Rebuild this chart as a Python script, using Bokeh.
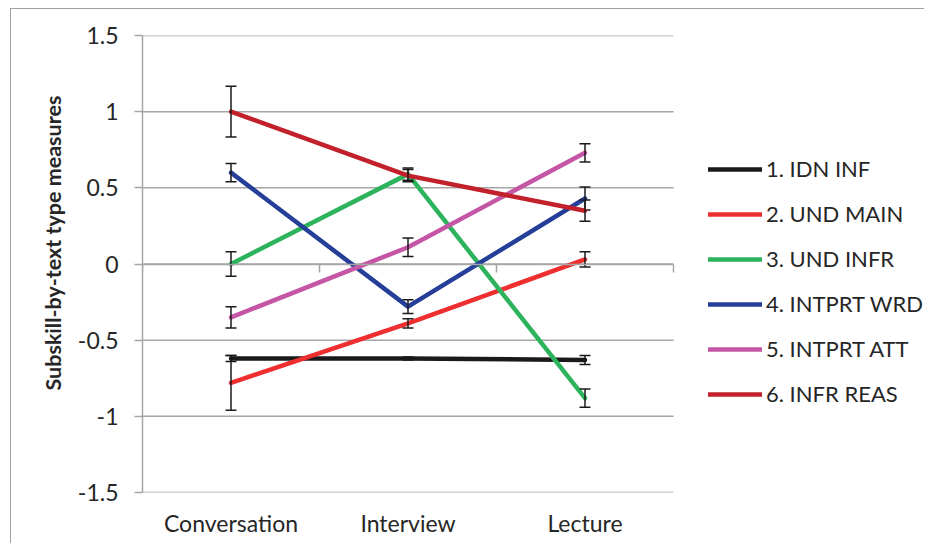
from bokeh.plotting import figure
from bokeh.models import (Range1d, LinearAxis, FixedTicker, Legend,
                          LegendItem, ColumnDataSource, Title)
from bokeh.embed import file_html
from bokeh.resources import INLINE

# ---- data ----
categories = ["Conversation", "Interview", "Lecture"]
cat_pos = [0.5, 1.5, 2.5]
y_ticks = [-1.5, -1.0, -0.5, 0.0, 0.5, 1.0, 1.5]
y_tick_labels = ["-1.5", "-1", "-0.5", "0", "0.5", "1", "1.5"]
x_axis_ticks = [0, 1, 2, 3]
x_min, x_max = 0, 3
y_title = "Subskill-by-text type measures"

series_names = ["1. IDN INF", "2. UND MAIN", "3. UND INFR",
                "4. INTPRT WRD", "5. INTPRT ATT", "6. INFR REAS"]

idn_inf = [-0.62, -0.62, -0.63]
idn_inf_err = [0.02, 0.01, 0.03]
und_main = [-0.78, -0.39, 0.03]
und_main_err = [0.18, 0.03, 0.05]
und_infr = [0.00, 0.59, -0.88]
und_infr_err = [0.08, 0.04, 0.06]
intprt_wrd = [0.60, -0.28, 0.43]
intprt_wrd_err = [0.06, 0.045, 0.075]
intprt_att = [-0.35, 0.11, 0.73]
intprt_att_err = [0.07, 0.06, 0.06]
infr_reas = [1.00, 0.58, 0.35]
infr_reas_err = [0.167, 0.04, 0.07]

series_values = [idn_inf, und_main, und_infr, intprt_wrd, intprt_att, infr_reas]
series_errors = [idn_inf_err, und_main_err, und_infr_err,
                 intprt_wrd_err, intprt_att_err, infr_reas_err]
series_colors = ["#1a1a1a", "#ee2e2f", "#2db35c", "#253e98", "#c556a5", "#c2202a"]

FONT = "Lato"
TEXT_COLOR = "#262626"
GRID_COLOR = "#a6a6a6"
ERR_COLOR = "#1a1a1a"

# layout (pixels); the figure is offset to leave room for the chart-area border
OFF_X, OFF_Y = 11, 9
W, H = 925 - OFF_X, 544 - OFF_Y
LEFT, TOP, BOTTOM = 142 - OFF_X, 35 - OFF_Y, 52
PLOT_PX = 531              # pixel width of the category area (x 0..3)
FRAME_PX = W - LEFT        # frame extends to the right edge to host the legend
x_view_max = x_max * FRAME_PX / PLOT_PX

p = figure(width=W, height=H, x_range=Range1d(x_min, x_view_max),
           y_range=Range1d(y_ticks[0], y_ticks[-1]),
           x_axis_type=None, y_axis_type=None, toolbar_location=None,
           output_backend="svg", min_border_left=LEFT, min_border_right=0,
           min_border_top=TOP, min_border_bottom=BOTTOM, outline_line_color=None,
           background_fill_color="white", border_fill_color="white")
p.margin = (OFF_Y - 1, 0, 0, OFF_X - 1)
p.styles = {"border-top": "1px solid #a0a0a0", "border-left": "1px solid #a0a0a0"}
p.xgrid.visible = False
p.ygrid.visible = False

# horizontal gridlines limited to the category area
grid_src = ColumnDataSource(dict(x0=[x_min] * len(y_ticks), x1=[x_max] * len(y_ticks),
                                 y=y_ticks))
p.segment(x0="x0", y0="y", x1="x1", y1="y", source=grid_src,
          line_color=GRID_COLOR, line_width=1.5)

yaxis = LinearAxis(ticker=FixedTicker(ticks=y_ticks),
                   major_label_overrides={t: l for t, l in zip(y_ticks, y_tick_labels)},
                   axis_line_color=GRID_COLOR, axis_line_width=1.5,
                   major_tick_line_color=GRID_COLOR, major_tick_line_width=1.5,
                   major_tick_out=8, major_tick_in=0, minor_tick_line_color=None,
                   major_label_text_font=FONT, major_label_text_font_size="23px",
                   major_label_text_color=TEXT_COLOR, major_label_standoff=16)
p.add_layout(yaxis, "left")

p.add_layout(Title(text=y_title, align="left", offset=102, standoff=17,
                   text_font=FONT, text_font_style="bold", text_font_size="21.5px",
                   text_color=TEXT_COLOR), "left")

xaxis0 = LinearAxis(ticker=FixedTicker(ticks=x_axis_ticks), fixed_location=0,
                    bounds=(x_min, x_max),
                    axis_line_color=GRID_COLOR, axis_line_width=1.5,
                    major_tick_line_color=GRID_COLOR, major_tick_line_width=1.5,
                    major_tick_out=8, major_tick_in=0, minor_tick_line_color=None,
                    major_label_text_color=None, major_label_text_font_size="1px")
p.add_layout(xaxis0, "below")

xaxis1 = LinearAxis(ticker=FixedTicker(ticks=cat_pos),
                    major_label_overrides={c: n for c, n in zip(cat_pos, categories)},
                    axis_line_color=None, major_tick_line_color=None,
                    minor_tick_line_color=None, major_label_standoff=10,
                    major_label_text_font=FONT, major_label_text_font_size="23px",
                    major_label_text_color=TEXT_COLOR)
p.add_layout(xaxis1, "below")

items = []
for name, vals, errs, col in zip(series_names, series_values, series_errors, series_colors):
    lower = [v - e for v, e in zip(vals, errs)]
    upper = [v + e for v, e in zip(vals, errs)]
    src = ColumnDataSource(dict(x=cat_pos, y=vals, lo=lower, hi=upper))
    r = p.line("x", "y", source=src, line_color=col, line_width=4.5,
               line_join="round", line_cap="round")
    p.segment(x0="x", y0="lo", x1="x", y1="hi", source=src,
              line_color=ERR_COLOR, line_width=1.5)
    p.scatter("x", "hi", source=src, marker="dash", size=11,
              line_color=ERR_COLOR, line_width=1.5)
    p.scatter("x", "lo", source=src, marker="dash", size=11,
              line_color=ERR_COLOR, line_width=1.5)
    items.append(LegendItem(label=name, renderers=[r]))

legend = Legend(items=items, location=(566, 85), glyph_width=54, glyph_height=26,
                label_height=26, spacing=18, padding=0, margin=0,
                border_line_color=None, background_fill_alpha=0,
                label_text_font=FONT, label_text_font_size="22px",
                label_text_color=TEXT_COLOR, label_standoff=4)
p.add_layout(legend, "center")

open("out.html", "w").write(file_html(p, INLINE))
